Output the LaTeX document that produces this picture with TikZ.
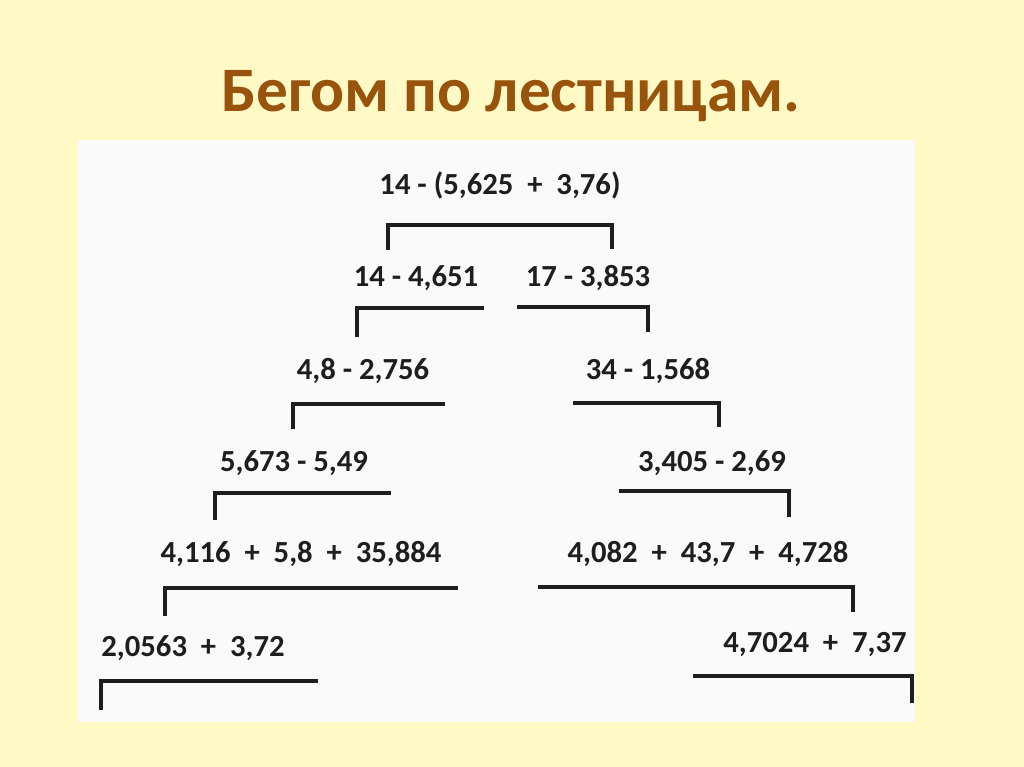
\documentclass[tikz,border=0pt]{standalone}
\usepackage{fontspec}
\setmainfont{Carlito}
\definecolor{bgyellow}{RGB}{255,249,198}
\definecolor{titlebrown}{RGB}{152,84,12}
\definecolor{panelwhite}{RGB}{250,250,250}
\definecolor{ink}{RGB}{30,30,30}
\begin{document}
\begin{tikzpicture}[x=0.75pt,y=-0.75pt,
  expr/.style={anchor=base,inner sep=0pt,text=ink,font=\fontsize{23pt}{26pt}\selectfont\bfseries},
  bracket/.style={draw=ink,line width=2.3pt,line cap=butt,line join=miter},
  title/.style={anchor=base,inner sep=0pt,text=titlebrown,font=\fontsize{47.5pt}{52pt}\selectfont\bfseries}]
\useasboundingbox (0,0) rectangle (1024,767);
\fill[bgyellow] (0,0) rectangle (1024,767);
\fill[panelwhite] (78,140) rectangle (915,722);
\node[title] (t) at (511,111) {Бегом по лестницам.};
% expressions
\node[expr] (e1) at (500,194) {14 - (5,625 \ + \ 3,76)};
\node[expr] (e2l) at (416,286) {14 - 4,651};
\node[expr] (e2r) at (588,286) {17 - 3,853};
\node[expr] (e3l) at (363,379) {4,8 - 2,756};
\node[expr] (e3r) at (648,379) {34 - 1,568};
\node[expr] (e4l) at (294,471) {5,673 - 5,49};
\node[expr] (e4r) at (712,471) {3,405 - 2,69};
\node[expr] (e5l) at (301,562) {4,116 \ + \ 5,8 \ + \ 35,884};
\node[expr] (e5r) at (708,562) {4,082 \ + \ 43,7 \ + \ 4,728};
\node[expr] (e6l) at (193,656) {2,0563 \ + \ 3,72};
\node[expr] (e6r) at (815,652) {4,7024 \ + \ 7,37};
% bracket corners
\coordinate (b1a) at (388,250); \coordinate (b1b) at (388,225); \coordinate (b1c) at (612,225); \coordinate (b1d) at (612,249);
\coordinate (b2a) at (357,337); \coordinate (b2b) at (357,308); \coordinate (b2c) at (484,308);
\coordinate (b2d) at (517,307); \coordinate (b2e) at (648,307); \coordinate (b2f) at (648,332);
\coordinate (b3a) at (293,429); \coordinate (b3b) at (293,404); \coordinate (b3c) at (445,404);
\coordinate (b3d) at (573,403); \coordinate (b3e) at (719,403); \coordinate (b3f) at (719,427);
\coordinate (b4a) at (215,520); \coordinate (b4b) at (215,493); \coordinate (b4c) at (391,493);
\coordinate (b4d) at (619,491); \coordinate (b4e) at (789,491); \coordinate (b4f) at (789,517);
\coordinate (b5a) at (165,616); \coordinate (b5b) at (165,588); \coordinate (b5c) at (458,588);
\coordinate (b5d) at (538,587); \coordinate (b5e) at (853,587); \coordinate (b5f) at (853,612);
\coordinate (b6a) at (101,710); \coordinate (b6b) at (101,681); \coordinate (b6c) at (318,681);
\coordinate (b6d) at (693,676); \coordinate (b6e) at (912,676); \coordinate (b6f) at (912,703);
\draw[bracket] (b1a) -- (b1b) -- (b1c) -- (b1d);
\draw[bracket] (b2a) -- (b2b) -- (b2c);
\draw[bracket] (b2d) -- (b2e) -- (b2f);
\draw[bracket] (b3a) -- (b3b) -- (b3c);
\draw[bracket] (b3d) -- (b3e) -- (b3f);
\draw[bracket] (b4a) -- (b4b) -- (b4c);
\draw[bracket] (b4d) -- (b4e) -- (b4f);
\draw[bracket] (b5a) -- (b5b) -- (b5c);
\draw[bracket] (b5d) -- (b5e) -- (b5f);
\draw[bracket] (b6a) -- (b6b) -- (b6c);
\draw[bracket] (b6d) -- (b6e) -- (b6f);
\end{tikzpicture}
\end{document}
